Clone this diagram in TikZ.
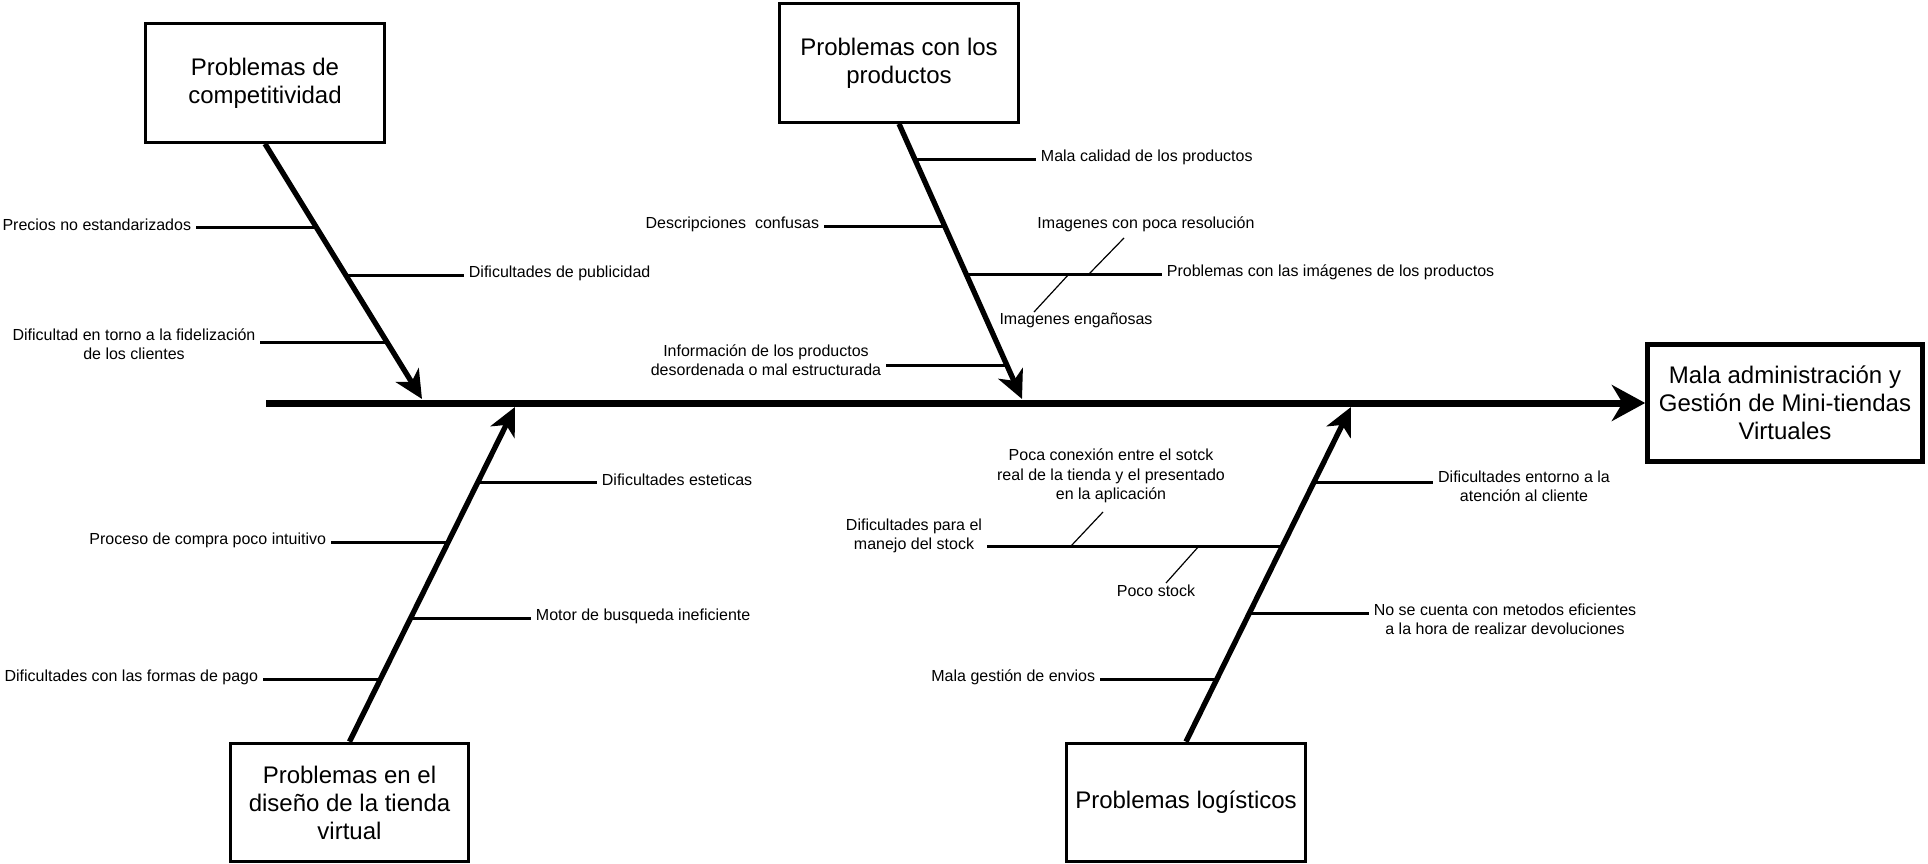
\documentclass[tikz,border=0pt]{standalone}
\usepackage{fontspec}
\setmainfont{Liberation Sans}
\usetikzlibrary{arrows.meta}

\tikzset{
    causebox/.style={draw, line width=2.25pt, align=center, minimum width=179pt, minimum height=89pt, inner sep=2pt, font=\fontsize{18}{21}\selectfont},
    cause/.style={align=center, inner sep=3.5pt, yshift=1.5pt, font=\fontsize{12}{14.5}\selectfont},
    bone/.style={line width=4pt, -{Stealth[length=21pt, width=20pt, inset=6pt]}},
    rib/.style={line width=2.25pt},
    subrib/.style={line width=0.9pt},
}

\begin{document}
\begin{tikzpicture}[x=0.75pt, y=-0.75pt]
    \useasboundingbox (0,0) rectangle (1928,864);

    % Effect and spine
    \node[causebox, line width=3.75pt, minimum width=206pt, minimum height=88pt] (effect) at (1785,403) {Mala administración y\\Gestión de Mini-tiendas\\Virtuales};
    \coordinate (tail) at (266,403);
    \draw[line width=5.25pt, -{Stealth[length=25pt, width=27pt, inset=8pt]}] (tail) -- (effect.west);

    % Problemas de competitividad
    \node[causebox] (compet) at (265,83) {Problemas de\\competitividad};
    \coordinate (ta) at (422,399);
    \draw[bone] (compet.south) -- (ta);
    \coordinate (a1) at (316,227);
    \coordinate (a2) at (345,275);
    \coordinate (a3) at (386,342);
    \node[cause, anchor=east] (precios) at (196,227) {Precios no estandarizados};
    \node[cause, anchor=west] (publi) at (464,275) {Dificultades de publicidad};
    \node[cause] (fidel) at (134,346) {Dificultad en torno a la fidelización\\de los clientes};
    \draw[rib] (a1) -- (a1 -| precios.east);
    \draw[rib] (a2) -- (a2 -| publi.west);
    \draw[rib] (a3) -- (a3 -| fidel.east);

    % Problemas con los productos
    \node[causebox] (prod) at (899,63) {Problemas con los\\productos};
    \coordinate (tb) at (1022,399);
    \draw[bone] (prod.south) -- (tb);
    \coordinate (b1) at (915,159);
    \coordinate (b2) at (944,226);
    \coordinate (b3) at (966,274);
    \coordinate (b4) at (1006,365);
    \node[cause, anchor=west] (calidad) at (1036,159) {Mala calidad de los productos};
    \node[cause, anchor=east] (descr) at (824,226) {Descripciones~ confusas};
    \node[cause, anchor=west] (imagenes) at (1162,274) {Problemas con las imágenes de los productos};
    \node[cause] (info) at (766,362) {Información de los productos\\desordenada o mal estructurada};
    \draw[rib] (b1) -- (b1 -| calidad.west);
    \draw[rib] (b2) -- (b2 -| descr.east);
    \draw[rib] (b3) -- (b3 -| imagenes.west);
    \draw[rib] (b4) -- (b4 -| info.east);
    % sub-causes of the images
    \coordinate (b3r) at (1089,274);
    \coordinate (b3l) at (1069,274);
    \coordinate (resolend) at (1124,238);
    \coordinate (enganend) at (1034,312);
    \node[cause] (resol) at (1146,226) {Imagenes con poca resolución};
    \node[cause] (engan) at (1076,322) {Imagenes engañosas};
    \draw[subrib] (b3r) -- (resolend);
    \draw[subrib] (b3l) -- (enganend);

    % Problemas en el diseno de la tienda virtual
    \node[causebox] (diseno) at (349.5,802.5) {Problemas en el\\diseño de la tienda\\virtual};
    \coordinate (tc) at (515,407);
    \draw[bone] (diseno.north) -- (tc);
    \coordinate (c1) at (478,482);
    \coordinate (c2) at (448,542);
    \coordinate (c3) at (411,618);
    \coordinate (c4) at (380,679);
    \node[cause, anchor=west] (estet) at (597,482) {Dificultades esteticas};
    \node[cause, anchor=east] (compra) at (331,542) {Proceso de compra poco intuitivo};
    \node[cause, anchor=west] (motor) at (531,618) {Motor de busqueda ineficiente};
    \node[cause, anchor=east] (pago) at (263,679) {Dificultades con las formas de pago};
    \draw[rib] (c1) -- (c1 -| estet.west);
    \draw[rib] (c2) -- (c2 -| compra.east);
    \draw[rib] (c3) -- (c3 -| motor.west);
    \draw[rib] (c4) -- (c4 -| pago.east);

    % Problemas logisticos
    \node[causebox] (logist) at (1186,802.5) {Problemas logísticos};
    \coordinate (td) at (1351,407);
    \draw[bone] (logist.north) -- (td);
    \coordinate (d1) at (1314,482);
    \coordinate (d2) at (1282,546);
    \coordinate (d3) at (1249,613);
    \coordinate (d4) at (1217,679);
    \node[cause] (atencion) at (1524,488) {Dificultades entorno a la\\atención al cliente};
    \node[cause] (stock) at (914,538) {Dificultades para el\\manejo del stock};
    \node[cause] (devol) at (1505,621) {No se cuenta con metodos eficientes\\a la hora de realizar devoluciones};
    \node[cause, anchor=east] (envios) at (1100,679) {Mala gestión de envios};
    \draw[rib] (d1) -- (d1 -| atencion.west);
    \draw[rib] (d2) -- (d2 -| stock.east);
    \draw[rib] (d3) -- (d3 -| devol.west);
    \draw[rib] (d4) -- (d4 -| envios.east);
    % sub-causes of the stock
    \coordinate (d2l) at (1071,546);
    \coordinate (d2r) at (1199,546);
    \coordinate (conexend) at (1103,512);
    \coordinate (pocoend) at (1166,583);
    \node[cause] (conexion) at (1111,478) {Poca conexión entre el sotck\\real de la tienda y el presentado\\en la aplicación};
    \node[cause] (poco) at (1156,593) {Poco stock};
    \draw[subrib] (d2l) -- (conexend);
    \draw[subrib] (d2r) -- (pocoend);
\end{tikzpicture}
\end{document}
